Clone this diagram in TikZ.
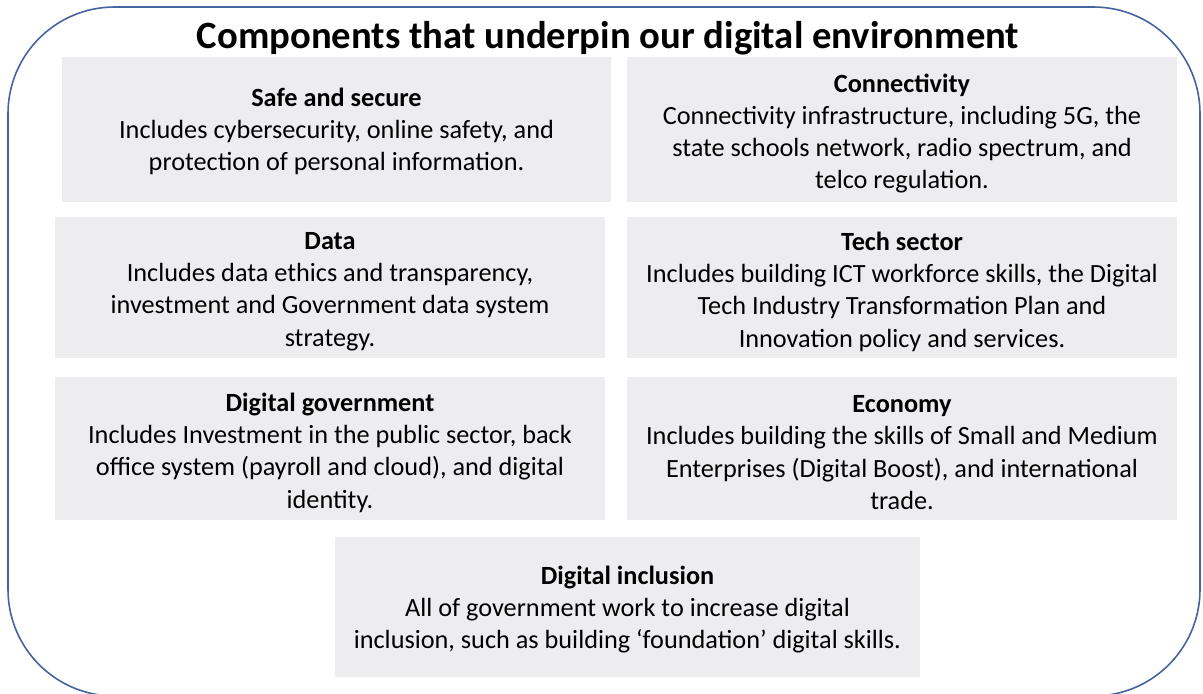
\documentclass[tikz,border=0pt]{standalone}
\usepackage{fontspec}
\setmainfont{Carlito}
\newdimen\pxu
\pxu=0.75pt
\definecolor{boxgray}{RGB}{237,237,240}
\definecolor{framecol}{RGB}{70,100,160}
\begin{document}
\begin{tikzpicture}[x=0.75pt,y=-0.75pt,
  panel/.style={fill=boxgray, inner sep=0pt},
  paneltext/.style={inner sep=0pt, align=center,
    font=\fontsize{19.7}{24.2}\selectfont},
  frame/.style={draw=framecol, line width=1.2pt, rounded corners=80pt},
  titletext/.style={inner sep=0pt, font=\fontsize{29}{33}\selectfont\bfseries}]
\useasboundingbox (0,0) rectangle (1203,693);
\draw[frame] (8,7) rectangle (1200,696);
\node[titletext] (title) at (608,38) {Components that underpin our digital environment};
% boxes
\node[panel, minimum width=549\pxu, minimum height=145\pxu] (safe) at (336.5,129.5) {};
\node[panel, minimum width=550\pxu, minimum height=145\pxu] (conn) at (902,129.5) {};
\node[panel, minimum width=550\pxu, minimum height=141\pxu] (data) at (330,287.5) {};
\node[panel, minimum width=550\pxu, minimum height=141\pxu] (tech) at (902,287.5) {};
\node[panel, minimum width=550\pxu, minimum height=143\pxu] (gov) at (330,448.5) {};
\node[panel, minimum width=550\pxu, minimum height=143\pxu] (econ) at (902,448.5) {};
\node[panel, minimum width=585\pxu, minimum height=140\pxu] (incl) at (627.5,607) {};
% texts
\node[paneltext] (safetext) at ([yshift=-1.5pt]safe.center)
  {\textbf{Safe and secure}\\Includes cybersecurity, online safety, and\\protection of personal information.};
\node[paneltext] (conntext) at ([yshift=-3pt]conn.center)
  {\textbf{Connectivity}\\Connectivity infrastructure, including 5G, the\\state schools network, radio spectrum, and\\telco regulation.};
\node[paneltext] (datatext) at ([yshift=-3pt]data.center)
  {\textbf{Data}\\Includes data ethics and transparency,\\investment and Government data system\\strategy.};
\node[paneltext] (techtext) at ([yshift=-3pt]tech.center)
  {\textbf{Tech sector}\\Includes building ICT workforce skills, the Digital\\Tech Industry Transformation Plan and\\Innovation policy and services.};
\node[paneltext] (govtext) at ([yshift=-3pt]gov.center)
  {\textbf{Digital government}\\Includes Investment in the public sector, back\\office system (payroll and cloud), and digital\\identity.};
\node[paneltext] (econtext) at ([yshift=-3pt]econ.center)
  {\textbf{Economy}\\Includes building the skills of Small and Medium\\Enterprises (Digital Boost), and international\\trade.};
\node[paneltext] (incltext) at ([yshift=-2pt]incl.center)
  {\textbf{Digital inclusion}\\All of government work to increase digital\\inclusion, such as building ‘foundation’ digital skills.};
\end{tikzpicture}
\end{document}
